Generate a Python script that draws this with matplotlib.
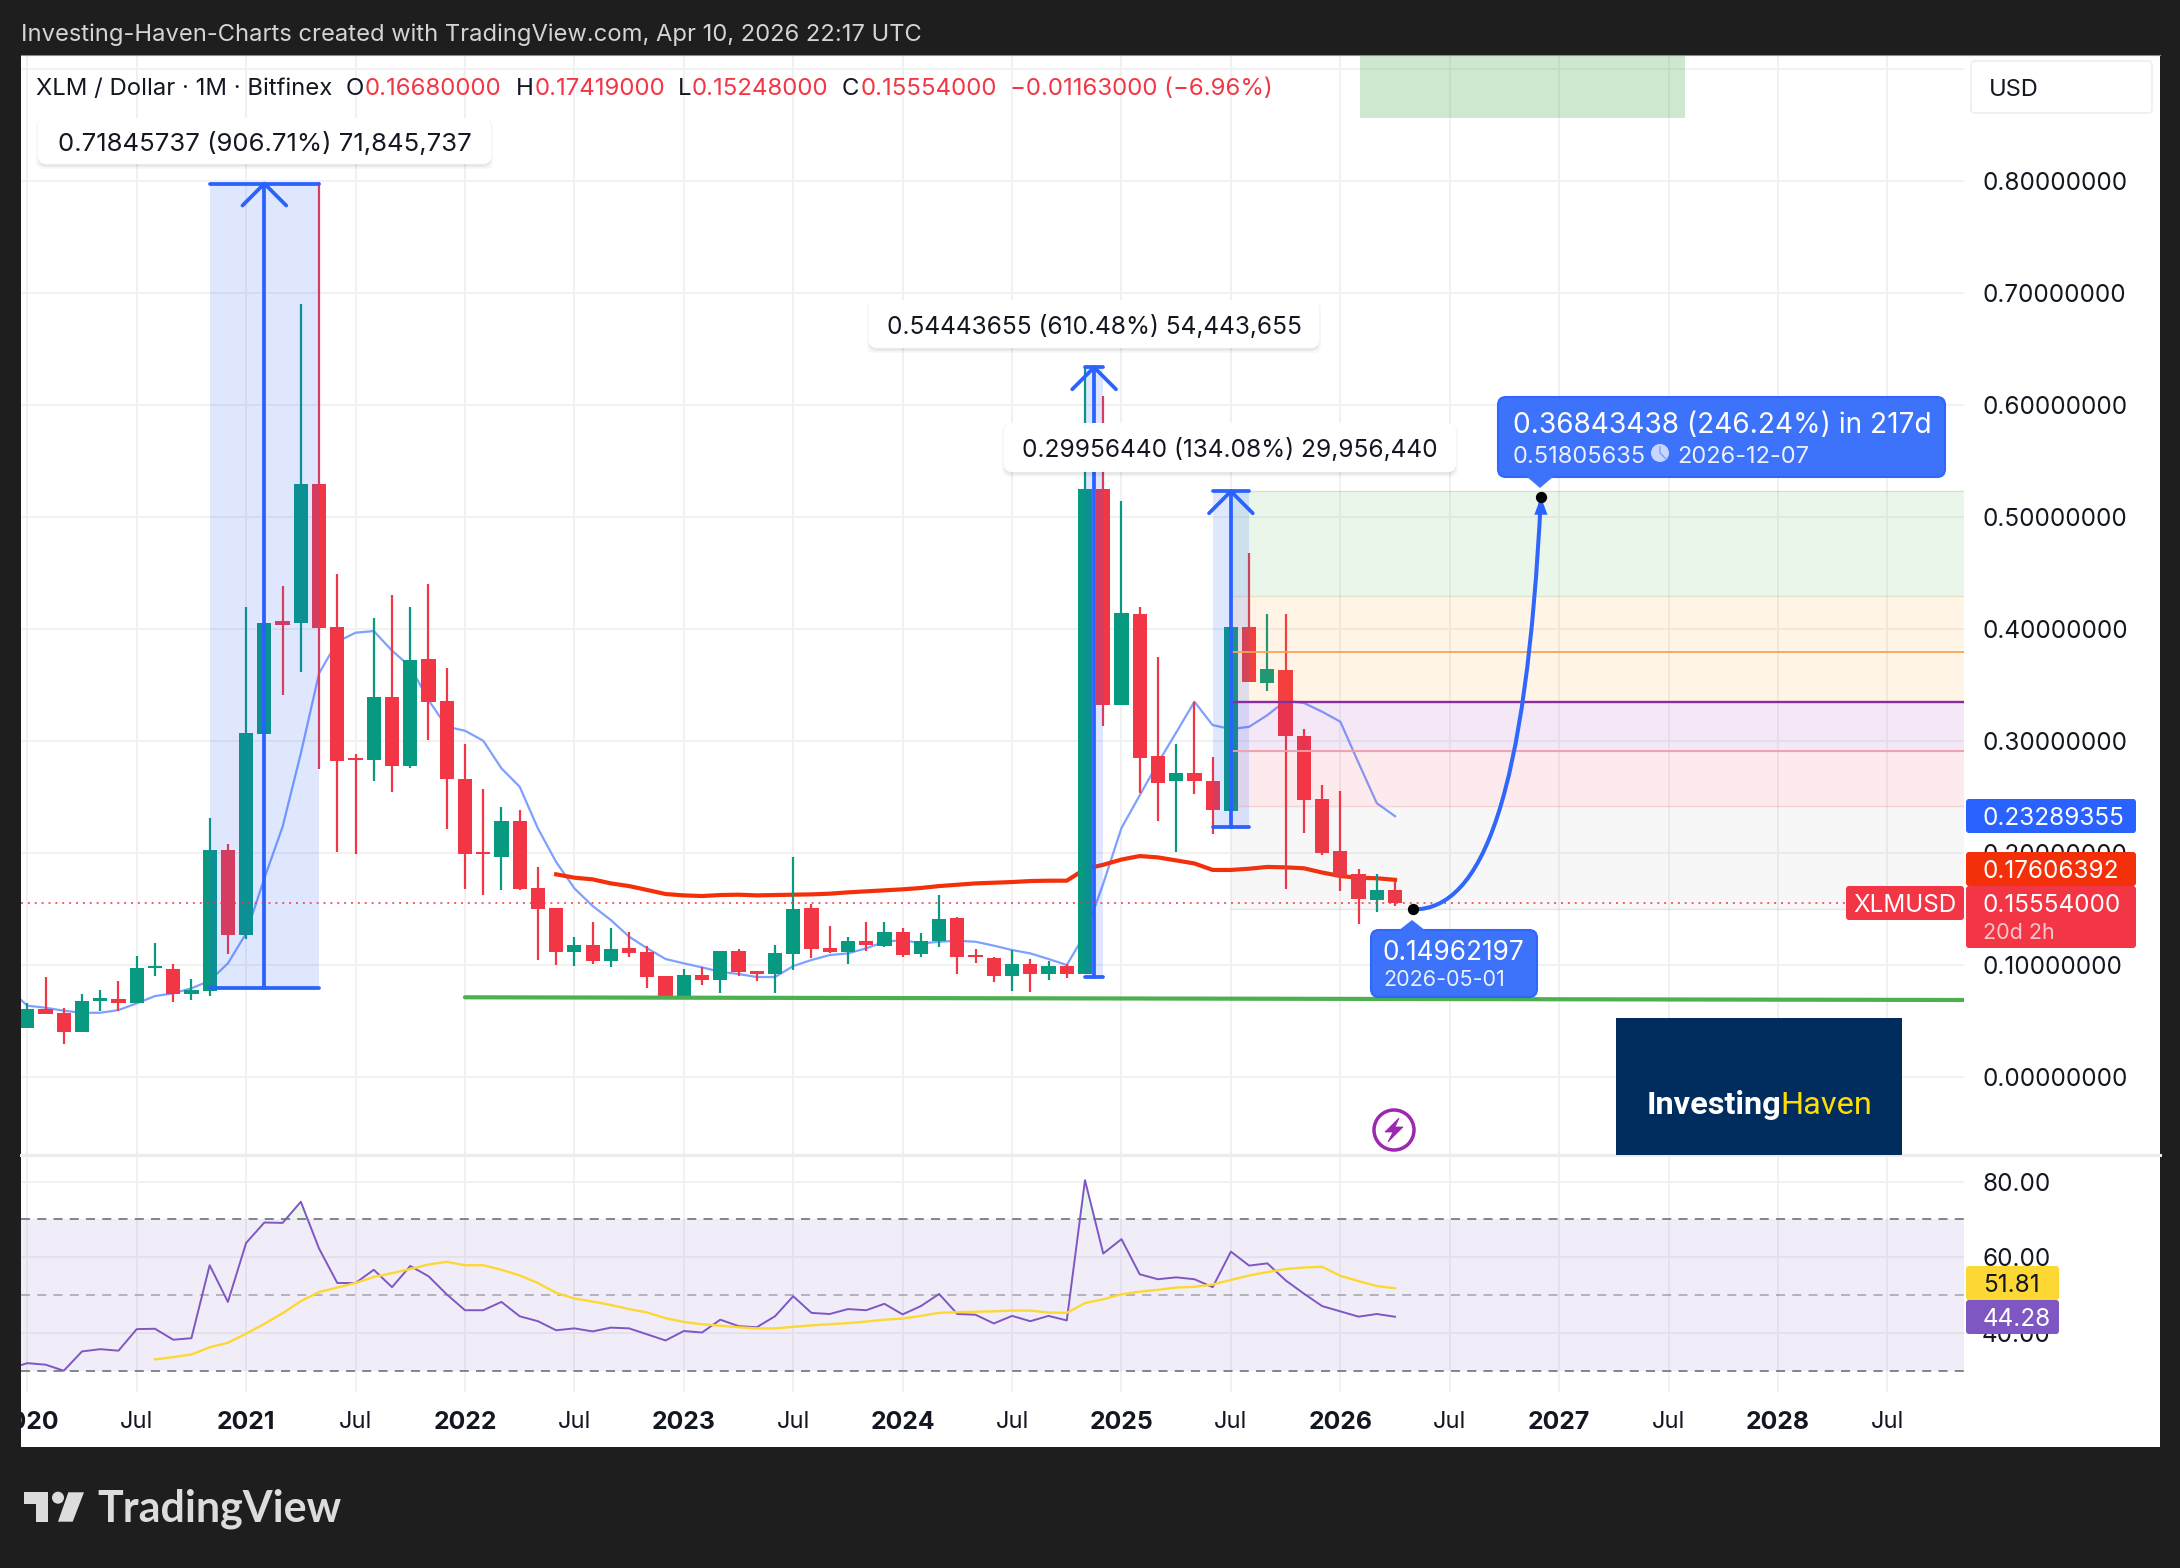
import numpy as np
import matplotlib
matplotlib.use("Agg")
import matplotlib.pyplot as plt
from matplotlib.patches import Rectangle, FancyBboxPatch, Polygon, Circle, PathPatch
from matplotlib.path import Path
from matplotlib.transforms import Bbox

plt.rcParams['font.family'] = ['Inter', 'DejaVu Sans']

# ---------- data: monthly candles, Jan 2020 .. Apr 2026 ----------
opens = [.0442,.0607,.0571,.0405,.0682,.0696,.0661,.0973,.0964,.0741,.0771,.2027,
         .1268,.3063,.4071,.4054,.5295,.4018,.2851,.2830,.3393,.2777,.3732,.3357,
         .2661,.2009,.1964,.2286,.1688,.1509,.1116,.1179,.1036,.1152,.1116,.0902,
         .0712,.0911,.0866,.1125,.0946,.092,.1098,.1509,.1152,.1116,.1214,.117,
         .1295,.1098,.1214,.142,.1089,.1063,.0902,.1009,.092,.0991,.092,.5249,
         .3325,.4133,.2863,.2647,.2716,.2643,.2379,.4017,.3517,.3634,.3045,.2483,
         .2019,.1814,.1581,.1668]
closes = [.0607,.0565,.0405,.0679,.0705,.0664,.0973,.0991,.0741,.0777,.2027,.1268,
          .3071,.4054,.4036,.5295,.4009,.2821,.2830,.3393,.2777,.3723,.3348,.2661,
          .1991,.1991,.2286,.1679,.15,.1116,.1179,.1036,.1143,.1107,.0893,.0712,
          .0911,.0866,.1125,.0938,.092,.1107,.15,.1143,.1116,.1214,.1179,.1295,
          .1089,.1214,.1411,.1071,.1071,.0902,.1009,.092,.0991,.092,.5249,.3325,
          .4141,.2848,.2627,.2716,.2639,.2387,.4017,.3525,.3641,.3045,.2472,.2,
          .1791,.1589,.167,.15554]
highs = [.0658,.089,.0613,.0741,.0777,.0857,.108,.1196,.1009,.0875,.2313,.208,
         .4196,.60,.4384,.690,.799,.4491,.2884,.4098,.4304,.4196,.4402,.3652,
         .2973,.2571,.2411,.2384,.1875,.1509,.125,.1384,.133,.1295,.117,.0902,
         .0964,.0982,.1125,.1143,.0946,.1179,.1964,.1545,.1348,.125,.1384,.1384,
         .133,.1286,.1625,.1429,.1143,.1071,.1134,.1054,.1036,.1009,.6336,.6077,
         .5143,.4195,.375,.2972,.3351,.2855,.4017,.4678,.4133,.4133,.3107,.2608,
         .2554,.1856,.181,.17419]
lows = [.0442,.0565,.0295,.0405,.0592,.0592,.0661,.0905,.0673,.0688,.0723,.1098,
        .1232,.3063,.3411,.3616,.275,.2009,.1991,.2643,.2545,.2759,.3009,.2214,
        .1679,.1625,.167,.167,.1045,.1,.0991,.1009,.0982,.1071,.0795,.0712,
        .0712,.0821,.075,.0902,.0857,.075,.0955,.1063,.1107,.1009,.1125,.1161,
        .1071,.1071,.1161,.092,.1018,.0848,.0768,.0759,.0866,.0884,.092,.3135,
        .3325,.2534,.2287,.2012,.2526,.2174,.2379,.3525,.3445,.1682,.2178,.1981,
        .1663,.1365,.1473,.15248]

# thin blue moving average, Dec 2019 .. Apr 2026
ma_blue = [.0785,
           .0637,.0619,.0592,.0574,.0574,.0598,.0658,.0723,.0747,.0792,.086,.1015,
           .1283,.1774,.2235,.289,.3604,.3887,.3967,.3982,.3807,.3664,.3366,.3128,
           .3092,.3003,.2756,.2592,.222,.192,.1685,.1527,.1402,.1253,.1149,.1054,
           .1015,.0979,.094,.092,.0893,.0893,.0991,.1045,.1089,.1104,.1149,.1208,
           .1223,.1193,.1208,.1217,.1208,.1173,.1134,.1104,.1054,.1,.1276,.1726,
           .2224,.2515,.2805,.3076,.3351,.3142,.3107,.3127,.3231,.3359,.334,.3262,
           .3173,.2805,.2445,.23289]
# thick red moving average, Jun 2022 .. Apr 2026
ma_red = [.181,.178,.1765,.1729,.1705,.167,.1634,
          .1622,.1616,.1625,.1628,.1622,.1625,.1628,.1631,.1637,.1649,.1658,.1667,
          .1676,.1688,.1705,.1717,.1729,.1735,.1741,.175,.1753,.1753,.1857,.1895,
          .1942,.1973,.1961,.1934,.1907,.1849,.1849,.1860,.1876,.1872,.1864,.1826,
          .1795,.1779,.1775,.17606]
# RSI, Dec 2019 .. Apr 2026
rsi = [30.5,
       32.0,31.6,30.0,35.1,35.7,35.3,41.0,41.1,38.2,38.6,57.9,48.2,
       63.8,69.2,69.1,74.7,62.3,53.2,53.2,56.7,52.1,57.7,55.0,50.2,
       46.0,46.0,48.2,44.4,43.1,40.7,41.2,40.4,41.4,41.2,39.6,38.0,
       40.5,40.1,43.5,41.8,41.5,44.4,49.7,45.3,45.0,46.3,46.0,47.7,
       44.9,47.1,50.3,45.0,44.8,42.5,44.5,43.1,44.5,43.3,80.4,61.0,
       64.8,55.5,54.2,54.7,54.2,52.1,61.5,57.8,58.4,53.9,50.4,47.1,
       45.7,44.3,45.0,44.28]
# RSI moving average, Aug 2020 .. Apr 2026
rsi_ma = [33.0,33.6,34.3,36.2,37.4,
          39.8,42.4,45.2,48.4,50.8,52.0,53.2,54.8,55.8,56.9,58.1,58.8,
          57.9,57.9,56.7,55.2,53.2,50.6,49.1,48.3,47.4,46.3,45.4,43.9,
          42.9,42.3,41.9,41.5,41.2,41.2,41.6,42.0,42.3,42.6,43.0,43.5,
          43.8,44.5,45.3,45.5,45.6,45.7,45.9,45.9,45.4,45.3,47.9,48.9,
          50.2,50.9,51.4,52.0,52.2,52.8,54.0,55.2,56.1,56.9,57.3,57.5,
          55.1,53.7,52.4,51.81]

# axis labels
x_tick_pos = list(range(0, 103, 6))
x_tick_labels = ['2020','Jul','2021','Jul','2022','Jul','2023','Jul','2024','Jul',
                 '2025','Jul','2026','Jul','2027','Jul','2028','Jul']
price_ticks = [0, .1, .2, .3, .4, .5, .6, .7, .8]
rsi_ticks = [40, 60, 80]

# price-range drawings: start bar, end bar, bottom price, top price
ranges_bar0 = [10, 58, 65]
ranges_bar1 = [16, 59, 67]
ranges_low = [.07924, .08920, .22340]
ranges_high = [.79770, .63364, .52296]
# target zones, from the fib tool (price levels), first bar 66
fib_levels = [.5229, .4296, .3351, .2914, .2418, .1497]
fib_line_orange = .3797
last_close = .15554
support_line_x = [24, 106.2]
support_line_y = [.0712, .0688]
forecast_x = [76, 79.8, 82.2, 83]
forecast_y = [.14962, .14962, .25, .51806]
top_zone = (73.1, 90.9, .8563)

# ---------- layout ----------
W, H = 2180, 1568
DARK = '#1e1e1e'
UP, DOWN = '#089981', '#f23645'
BLUE = '#2962ff'
GRID = '#f0f0f0'
FS = 17.5

fig = plt.figure(figsize=(W/100, H/100), dpi=100, facecolor=DARK)
fig.patches.append(Rectangle((21/W, 1-1447/H), (2160-21)/W, (1447-55)/H, transform=fig.transFigure,
                             fc='white', ec='none', zorder=-5))

def axes_px(x0, y0, x1, y1):
    return fig.add_axes([x0/W, 1-y1/H, (x1-x0)/W, (y1-y0)/H])

ax = axes_px(21, 55, 1964, 1155)
rx = axes_px(21, 1155, 1964, 1392)
XL = (-0.345, 106.2)
for a in (ax, rx):
    a.set_facecolor('none')
    for s in a.spines.values():
        s.set_visible(False)
    a.set_xlim(*XL)
    a.set_axisbelow(True)
    a.yaxis.tick_right()
    a.tick_params(axis='both', length=0, labelsize=FS, colors='#131722')
    a.tick_params(axis='y', pad=13.0)
    a.grid(True, color=GRID, lw=1.3, zorder=0)
ax.set_ylim(-.0696, .9125)
rx.set_ylim(24.37, 87.06)

# grid + ticks
ax.set_xticks(x_tick_pos)
ax.set_xticklabels([])
ax.set_yticks(price_ticks + [.9])
ax.set_yticklabels(['%.8f' % v for v in price_ticks] + [''])
rx.set_yticks(rsi_ticks)
rx.set_yticklabels(['%.2f' % v for v in rsi_ticks])
rx.set_xticks(x_tick_pos)
rx.set_xticklabels(x_tick_labels)
rx.tick_params(axis='x', pad=14, labelsize=17.8)
clip = Bbox([[21, 0], [2160, H]])
for lab in rx.get_xticklabels():
    if lab.get_text() != 'Jul':
        lab.set_fontweight('bold')
    else:
        lab.set_fontsize(17)
    lab.set_clip_box(clip)
    lab.set_clip_on(True)

# ---------- main pane ----------
bars = np.arange(len(opens))
o, h, l, c = map(np.array, (opens, highs, lows, closes))
col = np.where(c >= o, UP, DOWN)

ax.plot(np.arange(-1, len(ma_blue)-1), ma_blue, color='#7ea0ff', lw=1.6, zorder=2, solid_joinstyle='round')
ax.plot(np.arange(29, 29+len(ma_red)), ma_red, color='#f4300a', lw=3.0, zorder=2)
ax.vlines(bars, l, h, colors=col, lw=1.6, zorder=3)
ax.bar(bars, np.maximum(np.abs(c-o), .0012), bottom=np.minimum(o, c), width=.78, color=col, zorder=3, lw=0)

# target zones
fib_colors = [('#4caf50', .11), ('#ff9800', .10), ('#9c27b0', .10), ('#f23645', .10), ('#787b86', .06)]
for i, (fc, al) in enumerate(fib_colors):
    ax.add_patch(Rectangle((66, fib_levels[i+1]), XL[1]-66, fib_levels[i]-fib_levels[i+1],
                           fc=fc, alpha=al, ec='none', zorder=4))
    ax.plot([66, XL[1]], [fib_levels[i+1]]*2, color=fc, alpha=.18, lw=1, zorder=4)
ax.plot([66, XL[1]], [fib_levels[0]]*2, color='#4caf50', alpha=.2, lw=1, zorder=4)
ax.plot([66, XL[1]], [fib_line_orange]*2, color='#f7a456', lw=1.3, zorder=4.2)
ax.plot([66, XL[1]], [fib_levels[2]]*2, color='#8a2ba6', lw=1.7, zorder=4.2)
ax.plot([66, XL[1]], [fib_levels[3]]*2, color='#f0a0aa', lw=1.3, zorder=4.2)
ax.add_patch(Rectangle((top_zone[0], top_zone[2]), top_zone[1]-top_zone[0], 1,
                       fc='#4caf50', alpha=.28, ec='none', zorder=4))

# price ranges
for b0, b1, lo, hi in zip(ranges_bar0, ranges_bar1, ranges_low, ranges_high):
    ax.add_patch(Rectangle((b0, lo), b1-b0, hi-lo, fc=BLUE, alpha=.15, ec='none', zorder=4))
    mid = (b0+b1)/2
    kw = dict(color=BLUE, lw=2.7, zorder=5, solid_capstyle='round', solid_joinstyle='round')
    ax.plot([b0, b1], [lo, lo], **kw)
    ax.plot([b0, b1], [hi, hi], **kw)
    ax.plot([mid, mid], [lo, hi], **kw)
    ax.plot([mid-1.2, mid, mid+1.2], [hi-.0196, hi, hi-.0196], **kw)

# support and last price
ax.plot(support_line_x, support_line_y, color='#4caf50', lw=3.0, zorder=5, solid_capstyle='round')
ax.plot(XL, [last_close]*2, color=DOWN, lw=1.1, ls=(0, (1.3, 3.2)), zorder=5)

# forecast curve
p = Path(list(zip(forecast_x, forecast_y)), [Path.MOVETO, Path.CURVE4, Path.CURVE4, Path.CURVE4])
ax.add_patch(PathPatch(p, fc='none', ec='#2f66fb', lw=2.9, zorder=6, capstyle='round'))
ax.add_patch(Polygon([(forecast_x[3], forecast_y[3]), (forecast_x[3]-.36, forecast_y[3]-.016),
                      (forecast_x[3]+.36, forecast_y[3]-.016)], fc=BLUE, ec='none', zorder=6))
ax.scatter([forecast_x[0], forecast_x[3]], [forecast_y[0], forecast_y[3]], s=66, color='black', zorder=7, lw=0)

# ---------- RSI pane ----------
rx.axhspan(30, 70, fc='#7e57c2', alpha=.1, lw=0, zorder=1)
rx.plot(XL, [70, 70], color='#787b86', lw=1.3, ls=(0, (5, 4)), zorder=2)
rx.plot(XL, [30, 30], color='#787b86', lw=1.3, ls=(0, (5, 4)), zorder=2)
rx.plot(XL, [50, 50], color='#787b86', alpha=.55, lw=1.3, ls=(0, (5, 4)), zorder=2)
rsi_x = np.arange(-1, len(rsi)-1)
rsi_a = np.array(rsi)
rx.fill_between(rsi_x, 70, rsi_a, where=rsi_a > 70, interpolate=True, color='#4caf50', alpha=.1, lw=0, zorder=2)
rx.plot(rsi_x, rsi, color='#7e57c2', lw=1.4, zorder=3)
rx.plot(np.arange(7, 7+len(rsi_ma)), rsi_ma, color='#fdd835', lw=1.7, zorder=3)

# ---------- overlay in pixel coordinates ----------
ov = fig.add_axes([0, 0, 1, 1], zorder=10)
ov.set_xlim(0, W); ov.set_ylim(H, 0); ov.axis('off'); ov.patch.set_alpha(0)

def box(x0, y0, x1, y1, fc, r=4, ec='none', lw=0, z=1, alpha=1):
    ov.add_patch(FancyBboxPatch((x0+r, y0+r), x1-x0-2*r, y1-y0-2*r, boxstyle='round,pad=%g,rounding_size=%g' % (r, r),
                                fc=fc, ec=ec, lw=lw, zorder=z, alpha=alpha, mutation_aspect=1))

def txt(x, y, s, color='#131722', size=FS, ha='left', **kw):
    ov.text(x, y, s, color=color, fontsize=size, ha=ha, va='center_baseline', zorder=5, **kw)

# frame lines
ov.plot([21, 2160], [1155, 1155], color='#ececec', lw=2.2, zorder=0.5)
ov.plot([21, 2160], [55, 55], color='#8a8a8a', lw=.8, zorder=0.5)

# header
txt(21, 32, 'Investing-Haven-Charts created with TradingView.com, Apr 10, 2026 22:17 UTC', color='#d4d4d4', size=17.1)
txt(36, 86, 'XLM / Dollar · 1M · Bitfinex', size=17.2)
for (xa, a), (xb, b) in [((346, 'O'), (365, '0.16680000')), ((516, 'H'), (535, '0.17419000')),
                         ((678, 'L'), (692, '0.15248000')), ((842, 'C'), (861, '0.15554000'))]:
    txt(xa, 86, a, size=17.3)
    txt(xb, 86, b, size=17.3, color=DOWN)
txt(1010, 86, '\u22120.01163000 (\u22126.96%)', size=17.3, color=DOWN)

# USD box
box(1971, 61, 2152, 113, 'white', r=4, ec='#eeeeee', lw=1.2)
txt(1989, 87, 'USD', size=17)

# measure labels
for x0, y0, x1, y1, s, fs in [(38, 118, 491, 164, '0.71845737 (906.71%) 71,845,737', 18.5),
                              (869, 300, 1319, 348, '0.54443655 (610.48%) 54,443,655', 17.6),
                              (1004, 423, 1456, 472, '0.29956440 (134.08%) 29,956,440', 17.6)]:
    box(x0, y0+3, x1, y1+3, 'black', r=8, alpha=.06, z=1)
    box(x0-2, y0+1, x1+2, y1+5, 'black', r=8, alpha=.03, z=1)
    box(x0, y0, x1, y1, 'white', r=8, z=2)
    txt((x0+x1)/2, (y0+y1)/2, s, ha='center', size=fs)

# forecast label
fblue = '#3d72fb'
box(1498, 397, 1945, 477, fblue, r=8, ec='#2f66fb', lw=1.5, z=2)
ov.add_patch(Polygon([(1526, 476), (1554, 476), (1540, 488)], fc=fblue, ec='none', zorder=2))
txt(1513, 422, '0.36843438 (246.24%) in 217d', color='white', size=20.2)
txt(1513, 454, '0.51805635', color='#eaf0ff', size=17)
ov.add_patch(Circle((1660, 453), 9, fc='#c7d6ff', ec='none', zorder=4))
ov.plot([1660, 1660, 1666], [447, 453, 459], color='#7e9ffc', lw=1, zorder=4.5)
txt(1677, 454, '2026-12-07', color='#eaf0ff', size=17)

box(1371, 930, 1537, 997, fblue, r=8, ec='#2f66fb', lw=1.5, z=2)
ov.add_patch(Polygon([(1398, 931), (1426, 931), (1412, 920)], fc=fblue, ec='none', zorder=2))
txt(1383, 950, '0.14962197', color='white', size=18.9)
txt(1383, 978, '2026-05-01', color='#eaf0ff', size=15.5)

# price tags
box(1966, 799, 2136, 833, '#2962ff', r=3, z=2)
txt(1983, 816, '0.23289355', color='white')
box(1966, 852, 2136, 886, '#f4300a', r=3, z=2)
txt(1983, 869, '0.17606392', color='white')
box(1966, 886, 2136, 948, DOWN, r=3, z=2.1)
txt(1983, 903, '0.15554000', color='white')
txt(1983, 931, '20d 2h', color='#fbc6cb', size=15.5)
box(1846, 886, 1964, 920, DOWN, r=3, z=2)
txt(1905, 903, 'XLMUSD', color='white', ha='center')
box(1966, 1266, 2059, 1300, '#fdd835', r=3, z=2)
txt(1983, 1283, '51.81', color='#131722')
box(1966, 1300, 2059, 1334, '#7e57c2', r=3, z=2)
txt(1983, 1317, '44.28', color='white')

# InvestingHaven logo
ov.add_patch(Rectangle((1616, 1018), 286, 137, fc='#002d5d', ec='none', zorder=2))
ov.text(1647, 1114, 'Investing', color='white', fontsize=23.4, family='Roboto', fontweight='bold', va='baseline', zorder=5)
ov.text(1780, 1114, 'Haven', color='#ffdd00', fontsize=23.4, family='Roboto', va='baseline', zorder=5)

# lightning icon
ov.add_patch(Circle((1394, 1130), 20, fc='white', ec='#9c27b0', lw=2.5, zorder=3))
ov.add_patch(Polygon([(1399, 1118), (1385, 1132), (1393, 1132), (1388, 1142), (1403, 1127), (1395, 1127)],
                     fc='#9c27b0', ec='#9c27b0', lw=.6, zorder=4))

# TradingView logo
LOGO = '#dcdcdc'
ov.add_patch(Polygon([(24, 1492.3), (48.3, 1492.3), (48.3, 1521.7), (36, 1521.7), (36, 1504.3), (24, 1504.3)], fc=LOGO, ec='none'))
ov.add_patch(Circle((58, 1497.7), 6, fc=LOGO, ec='none'))
ov.add_patch(Polygon([(68.3, 1492.3), (84, 1492.3), (72.7, 1521.7), (58, 1521.7)], fc=LOGO, ec='none'))
ov.text(97, 1521.7, 'TradingView', color=LOGO, fontsize=31, family='Lato', fontweight='bold', va='baseline')

fig.savefig('out.png', dpi=100, facecolor=DARK)
